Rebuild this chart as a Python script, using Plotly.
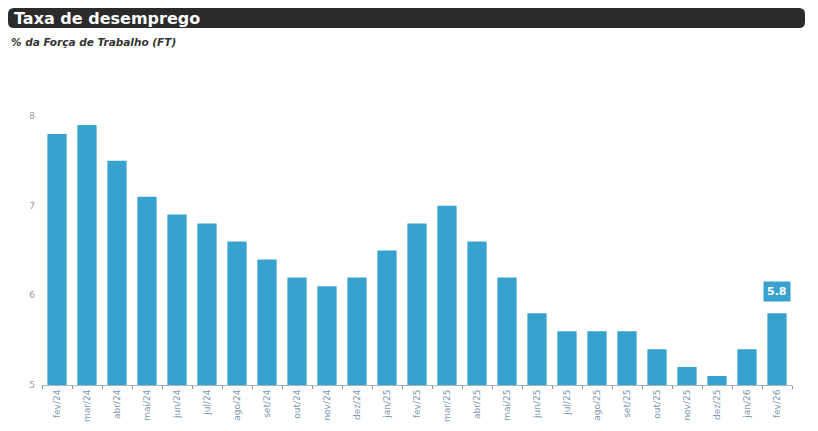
import plotly.graph_objects as go

months = ["fev/24", "mar/24", "abr/24", "mai/24", "jun/24", "jul/24", "ago/24", "set/24",
          "out/24", "nov/24", "dez/24", "jan/25", "fev/25", "mar/25", "abr/25", "mai/25",
          "jun/25", "jul/25", "ago/25", "set/25", "out/25", "nov/25", "dez/25", "jan/26", "fev/26"]
rate = [7.8, 7.9, 7.5, 7.1, 6.9, 6.8, 6.6, 6.4, 6.2, 6.1, 6.2, 6.5, 6.8, 7.0, 6.6, 6.2,
        5.8, 5.6, 5.6, 5.6, 5.4, 5.2, 5.1, 5.4, 5.8]
y_ticks = [5, 6, 7, 8]

title = "Taxa de desemprego"
subtitle = "% da Força de Trabalho (FT)"

BLUE = "#38a2cf"

# page body adds an 8px offset; figure coordinates below are in screen pixels
OFF = 8
FW, FH = 818 - OFF, 431 - OFF
L, R, T, B = 42 - OFF, 26, 107 - OFF, 46

fig = go.Figure(go.Bar(x=months, y=rate, marker=dict(color=BLUE, line=dict(width=0))))

fig.update_layout(
    width=FW, height=FH,
    margin=dict(l=L, r=R, t=T, b=B, autoexpand=False),
    paper_bgcolor="white", plot_bgcolor="white",
    bargap=0.36,
    showlegend=False,
    font=dict(family="DejaVu Sans", color="#9a9a9a"),
)
fig.update_yaxes(range=[5, 8.1], tickvals=y_ticks, showgrid=False, zeroline=False,
                 showline=False, ticks="", tickfont=dict(size=9, color="#9a9a9a"),
                 ticklabelstandoff=6)
fig.update_xaxes(showline=True, linecolor="#aab4bb", linewidth=1, ticks="outside",
                 tickson="boundaries", ticklen=3, tickcolor="#8a949a", tickangle=-90,
                 tickfont=dict(size=9, color="#7b97ad"), showgrid=False)

PW, PH = FW - L - R, FH - T - B
def px(x):
    return (x - OFF - L) / PW
def py(y):
    return (FH - B - (y - OFF)) / PH

x0, x1, y0, y1, r = 8, 805, 8, 28, 6
path = (f"M {px(x0 + r)},{py(y0)} L {px(x1 - r)},{py(y0)} "
        f"Q {px(x1)},{py(y0)} {px(x1)},{py(y0 + r)} L {px(x1)},{py(y1 - r)} "
        f"Q {px(x1)},{py(y1)} {px(x1 - r)},{py(y1)} L {px(x0 + r)},{py(y1)} "
        f"Q {px(x0)},{py(y1)} {px(x0)},{py(y1 - r)} L {px(x0)},{py(y0 + r)} "
        f"Q {px(x0)},{py(y0)} {px(x0 + r)},{py(y0)} Z")
fig.add_shape(type="path", xref="paper", yref="paper", path=path,
              fillcolor="#2b2b2b", line=dict(width=0), layer="above")
fig.add_annotation(xref="paper", yref="paper", x=px(12), y=py(18), xanchor="left",
                   yanchor="middle", text=f"<b>{title}</b>", showarrow=False,
                   font=dict(family="DejaVu Sans", size=16, color="white"))
fig.add_annotation(xref="paper", yref="paper", x=px(9), y=py(42), xanchor="left",
                   yanchor="middle", text=f"<b><i>{subtitle}</i></b>", showarrow=False,
                   font=dict(family="DejaVu Sans", size=10.5, color="#333333"))

# value label on last bar
fig.add_annotation(x=months[-1], y=rate[-1], yshift=11, yanchor="bottom",
                   text=f"<b>{rate[-1]}</b>", showarrow=False, bgcolor=BLUE, borderpad=3,
                   font=dict(family="DejaVu Sans", size=11, color="white"))

fig.write_html("out.html")
